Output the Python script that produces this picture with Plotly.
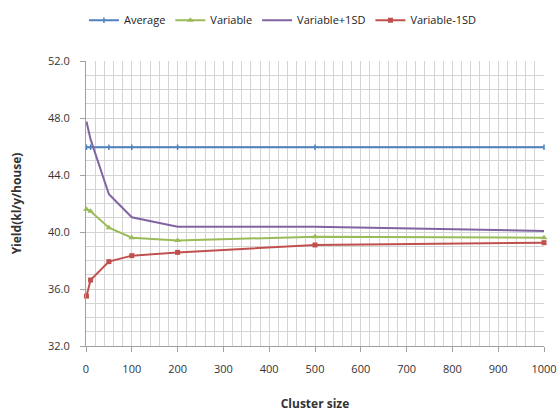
import plotly.graph_objects as go

cluster_size = [1, 10, 50, 100, 200, 500, 1000]
average = [45.95, 45.95, 45.95, 45.95, 45.95, 45.95, 45.95]
variable = [41.6, 41.45, 40.3, 39.6, 39.4, 39.67, 39.6]
variable_plus = [47.75, 46.5, 42.65, 41.03, 40.37, 40.37, 40.07]
variable_minus = [35.5, 36.63, 37.92, 38.34, 38.57, 39.09, 39.25]

y_ticks = [32, 36, 40, 44, 48, 52]
x_ticks = [0, 100, 200, 300, 400, 500, 600, 700, 800, 900, 1000]

font_family = "Open Sans, Liberation Sans, Arial"

fig = go.Figure()
fig.add_trace(go.Scatter(x=cluster_size, y=average, name="Average", mode="lines+markers",
                         line=dict(color="#4F81BD", width=2),
                         marker=dict(symbol="line-ns", size=4, line=dict(color="#4F81BD", width=1.5)),
                         cliponaxis=False))
fig.add_trace(go.Scatter(x=cluster_size, y=variable, name="Variable", mode="lines+markers",
                         line=dict(color="#9BBB59", width=2),
                         marker=dict(symbol="triangle-up", size=6, color="#9BBB59"),
                         cliponaxis=False))
fig.add_trace(go.Scatter(x=cluster_size, y=variable_plus, name="Variable+1SD", mode="lines",
                         line=dict(color="#8064A2", width=2),
                         cliponaxis=False))
fig.add_trace(go.Scatter(x=cluster_size, y=variable_minus, name="Variable-1SD", mode="lines+markers",
                         line=dict(color="#C0504D", width=2),
                         marker=dict(symbol="square", size=5, color="#C0504D"),
                         cliponaxis=False))

grid = "#d4d4d4"
fig.update_layout(
    width=560, height=412,
    margin=dict(l=86, r=16, t=61, b=66, autoexpand=False),
    paper_bgcolor="white", plot_bgcolor="white",
    font=dict(family=font_family, size=11, color="#333333"),
    showlegend=True,
    legend=dict(orientation="h", x=0.43, xanchor="center", yref="container", y=0.951, yanchor="middle",
                font=dict(size=11, color="#222222"), itemwidth=30,
                traceorder="normal", tracegroupgap=0),
    xaxis=dict(range=[0, 1000], tickvals=x_ticks, ticktext=[str(v) for v in x_ticks],
               showgrid=True, gridcolor=grid, gridwidth=1,
               minor=dict(dtick=20, showgrid=True, gridcolor=grid, gridwidth=1, ticks=""),
               showline=True, linecolor="#a0a0a0", linewidth=1,
               ticks="outside", ticklen=5, tickcolor="#a0a0a0",
               zeroline=False, tickfont=dict(size=11), ticklabelstandoff=8, automargin=False,
               ticklabeloverflow="allow",
               title=dict(text="<b>Cluster size</b>", font=dict(size=12), standoff=27)),
    yaxis=dict(range=[32, 52], tickvals=y_ticks, ticktext=[f"{v:.1f}" for v in y_ticks],
               showgrid=True, gridcolor=grid, gridwidth=1,
               minor=dict(dtick=1, showgrid=True, gridcolor=grid, gridwidth=1, ticks=""),
               showline=True, linecolor="#a0a0a0", linewidth=1,
               ticks="outside", ticklen=5, tickcolor="#a0a0a0",
               zeroline=False, tickfont=dict(size=11), ticklabelstandoff=8, automargin=False,
               title=dict(text="<b>Yield(kl/y/house)</b>", font=dict(size=12), standoff=23)),
)

fig.write_html("out.html", config={"displayModeBar": False},
               post_script="document.body.style.margin='0';document.body.style.overflow='hidden';")
